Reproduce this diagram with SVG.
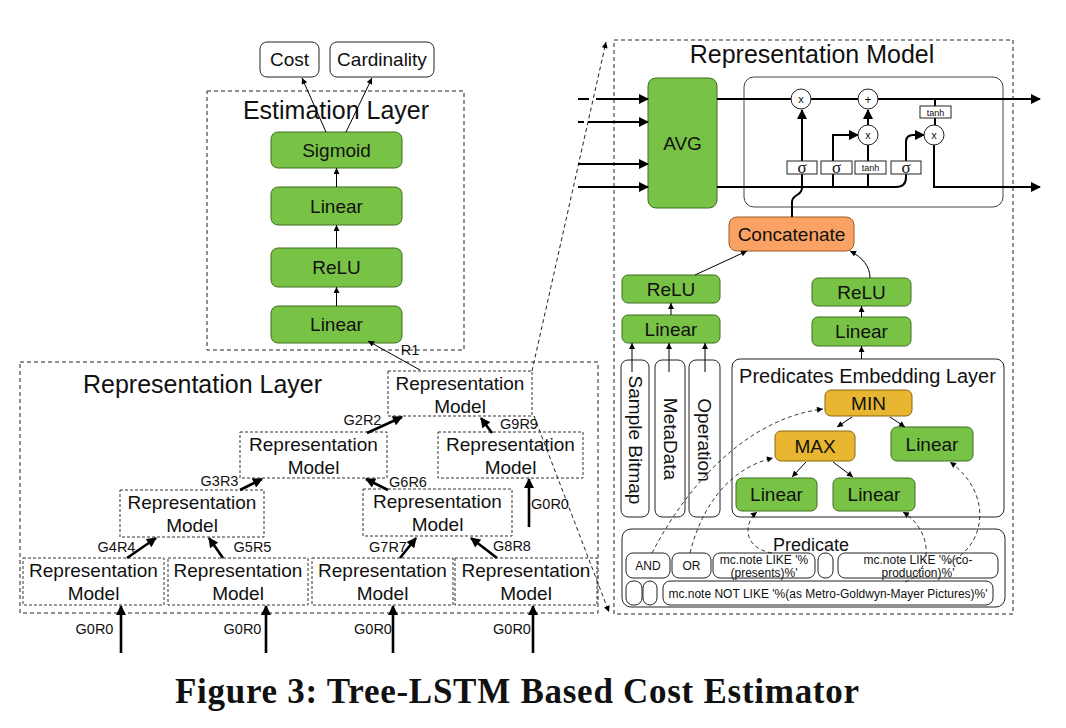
<svg xmlns="http://www.w3.org/2000/svg" width="1066" height="728" viewBox="0 0 1066 728">
<style>
text{font-family:"Liberation Sans",Arial,sans-serif;fill:#111}
.t19{font-size:19px;text-anchor:middle}
.t25{font-size:25px;text-anchor:middle}
.lbl{font-size:14.5px;text-anchor:middle}
.sm{font-size:12px;text-anchor:middle}
.g{fill:#78C345;stroke:#3E6E22;stroke-width:1}
.o{fill:#F9A263;stroke:#9A5B25;stroke-width:1}
.y{fill:#E8B631;stroke:#86660F;stroke-width:1}
.w{fill:#fff;stroke:#222;stroke-width:1}
.rm{fill:#fff;stroke:#333;stroke-width:1;stroke-dasharray:3 2}
.dl{fill:none;stroke:#222;stroke-width:1;stroke-dasharray:4 3}
.th{fill:none;stroke:#000;stroke-width:1}
.tk{fill:none;stroke:#000;stroke-width:2.6}
.ls{fill:none;stroke:#000;stroke-width:2}
.dc{fill:none;stroke:#222;stroke-width:0.9;stroke-dasharray:4 3}
</style>
<defs>
<marker id="a1" viewBox="0 0 10 10" refX="10" refY="5" markerWidth="7" markerHeight="6" markerUnits="userSpaceOnUse" orient="auto"><path d="M0,0 L10,5 L0,10 z" fill="#000"/></marker>
<marker id="a2" viewBox="0 0 10 10" refX="9" refY="5" markerWidth="12" markerHeight="10" markerUnits="userSpaceOnUse" orient="auto"><path d="M0,0 L10,5 L0,10 z" fill="#000"/></marker>
<marker id="a3" viewBox="0 0 10 10" refX="9" refY="5" markerWidth="14" markerHeight="10" markerUnits="userSpaceOnUse" orient="auto"><path d="M0,0 L10,5 L0,10 z" fill="#000"/></marker>
</defs>
<rect width="1066" height="728" fill="#fff"/>

<!-- layer frames -->
<g id="estimation-layer">
<rect x="207" y="91" width="257" height="259" class="dl"/>
<text x="336" y="119" class="t25">Estimation Layer</text>
</g>
<g id="representation-layer">
<rect x="20" y="362" width="578" height="251" class="dl"/>
<text x="83" y="393" style="font-size:25px">Representation Layer</text>
</g>
<g id="representation-model-panel">
<rect x="614" y="40" width="399" height="574" class="dl"/>
<text x="812" y="63" class="t25">Representation Model</text>
</g>

<!-- estimation nodes -->
<g id="cost"><rect x="260" y="42" width="59" height="35" rx="7" class="w"/><text x="289.5" y="66" class="t19">Cost</text></g>
<g id="cardinality"><rect x="330" y="42" width="104" height="35" rx="7" class="w"/><text x="382" y="66" class="t19">Cardinality</text></g>
<g id="sigmoid"><rect x="271" y="132" width="131" height="36" rx="7" class="g"/><text x="336.5" y="157" class="t19">Sigmoid</text></g>
<g id="est-linear2"><rect x="271" y="187" width="131" height="38" rx="7" class="g"/><text x="336.5" y="213" class="t19">Linear</text></g>
<g id="est-relu"><rect x="271" y="248" width="131" height="39" rx="7" class="g"/><text x="336.5" y="274" class="t19">ReLU</text></g>
<g id="est-linear1"><rect x="271" y="306" width="131" height="37" rx="7" class="g"/><text x="336.5" y="331" class="t19">Linear</text></g>

<!-- representation model nodes (left tree) -->
<g id="rm-root"><rect x="388" y="371" width="144" height="45" class="rm"/><text x="460" y="390" class="t19">Representation</text><text x="460" y="413" class="t19">Model</text></g>
<g id="rm-2l"><rect x="240" y="432" width="147" height="46" class="rm"/><text x="313.5" y="451" class="t19">Representation</text><text x="313.5" y="474" class="t19">Model</text></g>
<g id="rm-2r"><rect x="438" y="432" width="145" height="46" class="rm"/><text x="510.5" y="451" class="t19">Representation</text><text x="510.5" y="474" class="t19">Model</text></g>
<g id="rm-3l"><rect x="120" y="490" width="144" height="47" class="rm"/><text x="192" y="509" class="t19">Representation</text><text x="192" y="532" class="t19">Model</text></g>
<g id="rm-3r"><rect x="363" y="489" width="149" height="47" class="rm"/><text x="437.5" y="508" class="t19">Representation</text><text x="437.5" y="531" class="t19">Model</text></g>
<g id="rm-4a"><rect x="23" y="558" width="141" height="47" class="rm"/><text x="93.5" y="577" class="t19">Representation</text><text x="93.5" y="600" class="t19">Model</text></g>
<g id="rm-4b"><rect x="168" y="558" width="140" height="47" class="rm"/><text x="238" y="577" class="t19">Representation</text><text x="238" y="600" class="t19">Model</text></g>
<g id="rm-4c"><rect x="312" y="558" width="141" height="47" class="rm"/><text x="382.5" y="577" class="t19">Representation</text><text x="382.5" y="600" class="t19">Model</text></g>
<g id="rm-4d"><rect x="455" y="558" width="142" height="47" class="rm"/><text x="526" y="577" class="t19">Representation</text><text x="526" y="600" class="t19">Model</text></g>

<!-- right panel nodes -->
<g id="avg"><rect x="648" y="78" width="69" height="130" rx="8" class="g"/><text x="682.5" y="150" class="t19">AVG</text></g>
<g id="lstm-cell"><rect x="744" y="77" width="259" height="130" rx="10" fill="#fff" stroke="#444" stroke-width="1"/></g>
<g id="concatenate"><rect x="729" y="217" width="125" height="34" rx="8" class="o"/><text x="791.5" y="241" class="t19">Concatenate</text></g>
<g id="relu-l"><rect x="622" y="275" width="98" height="28" rx="6" class="g"/><text x="671" y="296" class="t19">ReLU</text></g>
<g id="linear-l"><rect x="622" y="315" width="98" height="28" rx="6" class="g"/><text x="671" y="336" class="t19">Linear</text></g>
<g id="relu-r"><rect x="812" y="278" width="99" height="28" rx="6" class="g"/><text x="861.5" y="299" class="t19">ReLU</text></g>
<g id="linear-r"><rect x="812" y="317" width="99" height="29" rx="6" class="g"/><text x="861.5" y="338" class="t19">Linear</text></g>
<g id="sample-bitmap"><rect x="621" y="360" width="28" height="157" rx="7" class="w"/><text transform="translate(635,440) rotate(90)" class="t19" dominant-baseline="central">Sample Bitmap</text></g>
<g id="metadata"><rect x="655" y="360" width="30" height="157" rx="7" class="w"/><text transform="translate(670,439) rotate(90)" class="t19" dominant-baseline="central">MetaData</text></g>
<g id="operation"><rect x="689" y="360" width="31" height="157" rx="7" class="w"/><text transform="translate(704.5,440) rotate(90)" class="t19" dominant-baseline="central">Operation</text></g>
<g id="pred-embedding"><rect x="732" y="359" width="272" height="158" rx="8" class="w"/><text x="867.5" y="383" style="font-size:20px;text-anchor:middle">Predicates Embedding Layer</text></g>
<g id="min"><rect x="825" y="390" width="87" height="26" rx="6" class="y"/><text x="868.5" y="410" class="t19">MIN</text></g>
<g id="max"><rect x="775" y="431" width="80" height="30" rx="6" class="y"/><text x="815" y="453" class="t19">MAX</text></g>
<g id="linear-min"><rect x="891" y="427" width="82" height="34" rx="6" class="g"/><text x="932" y="451" class="t19">Linear</text></g>
<g id="linear-bl"><rect x="736" y="478" width="81" height="33" rx="6" class="g"/><text x="776.5" y="501" class="t19">Linear</text></g>
<g id="linear-br"><rect x="833" y="478" width="82" height="33" rx="6" class="g"/><text x="874" y="501" class="t19">Linear</text></g>
<g id="predicate">
<rect x="622" y="529" width="383" height="78" rx="9" class="w"/>
<text x="811" y="551" style="font-size:18px;text-anchor:middle">Predicate</text>
<rect x="626" y="553" width="44" height="25" rx="7" class="w"/><text x="648" y="570" class="sm">AND</text>
<rect x="672" y="553" width="39" height="25" rx="7" class="w"/><text x="691.5" y="570" class="sm">OR</text>
<rect x="713" y="553" width="102" height="25" rx="7" class="w"/><text x="764" y="564" class="sm">mc.note LIKE '%</text><text x="764" y="576.5" class="sm">(presents)%'</text>
<rect x="818" y="553" width="15" height="25" rx="7" class="w"/>
<rect x="838" y="553" width="160" height="25" rx="7" class="w"/><text x="918" y="564" class="sm">mc.note LIKE '%(co-</text><text x="918" y="576.5" class="sm">production)%'</text>
<rect x="626" y="581" width="16" height="24" rx="7" class="w"/>
<rect x="643" y="581" width="14" height="24" rx="7" class="w"/>
<rect x="663" y="581" width="330" height="24" rx="7" class="w"/><text x="828" y="597.5" class="sm">mc.note NOT LIKE '%(as Metro-Goldwyn-Mayer Pictures)%'</text>
</g>

<!-- connectors -->
<g id="connectors">
<!-- estimation -->
<path d="M326 132 L302 78" class="th" marker-end="url(#a1)"/>
<path d="M346 132 L372 78" class="th" marker-end="url(#a1)"/>
<path d="M336.5 187 V168" class="th" marker-end="url(#a1)"/>
<path d="M336.5 248 V225" class="th" marker-end="url(#a1)"/>
<path d="M336.5 306 V287" class="th" marker-end="url(#a1)"/>
<path d="M420 370 L368 341" class="th" marker-end="url(#a1)"/>
<!-- tree -->
<path d="M367 433 L402 417" class="tk" marker-end="url(#a2)"/>
<path d="M492 433 L481 418" class="tk" marker-end="url(#a2)"/>
<path d="M240 490 L262 479" class="tk" marker-end="url(#a2)"/>
<path d="M388 490 L366 479" class="tk" marker-end="url(#a2)"/>
<path d="M127 558 L156 538" class="tk" marker-end="url(#a2)"/>
<path d="M223 558 L209 538" class="tk" marker-end="url(#a2)"/>
<path d="M400 558 L416 538" class="tk" marker-end="url(#a2)"/>
<path d="M497 558 L471 538" class="tk" marker-end="url(#a2)"/>
<path d="M529 527 V479" class="tk" marker-end="url(#a3)"/>
<path d="M121 653 V606" class="tk" marker-end="url(#a3)"/>
<path d="M266 653 V606" class="tk" marker-end="url(#a3)"/>
<path d="M393 653 V606" class="tk" marker-end="url(#a3)"/>
<path d="M533 653 V606" class="tk" marker-end="url(#a3)"/>
<!-- zoom lines -->
<path d="M532 371 L606 42" class="dl" marker-end="url(#a1)"/>
<path d="M534 416 L609 612" class="dl" marker-end="url(#a1)"/>
<!-- AVG inputs -->
<path d="M578 99 H589" class="ls"/>
<path d="M596 99 H648" class="ls" marker-end="url(#a3)"/>
<path d="M578 122 H584" class="ls"/>
<path d="M588 122 H648" class="ls" marker-end="url(#a3)"/>
<path d="M578 164 H648" class="ls" marker-end="url(#a3)"/>
<path d="M578 187 H648" class="ls" marker-end="url(#a3)"/>
<!-- LSTM internals -->
<path d="M717 99 H1040" class="ls" marker-end="url(#a3)"/>
<path d="M717 187 H896 Q906 187 906 177 V174" class="ls"/>
<path d="M802 174 V187" class="ls"/>
<path d="M802 161 V110" class="ls" marker-end="url(#a2)"/>
<path d="M792 217 V202 C792 194 802 196 802 188" class="ls"/>
<path d="M833 187 V174" class="ls"/>
<path d="M833 161 V135 H858" class="ls" marker-end="url(#a2)"/>
<path d="M868 187 V145" class="ls"/>
<path d="M868 125 V110" class="ls" marker-end="url(#a2)"/>
<path d="M906 161 V142 Q906 135 913 135 H924" class="ls" marker-end="url(#a2)"/>
<path d="M935 99 V125" class="ls"/>
<path d="M934 145 V187 H1040" class="ls" marker-end="url(#a3)"/>
<!-- right panel thin arrows -->
<path d="M695 275 L747 251" class="th" marker-end="url(#a1)"/>
<path d="M870 278 C870 266 862 257 850 251" class="th" marker-end="url(#a1)"/>
<path d="M671 315 V303" class="th" marker-end="url(#a1)"/>
<path d="M861.5 317 V306" class="th" marker-end="url(#a1)"/>
<path d="M861.5 359 V346" class="th" marker-end="url(#a1)"/>
<path d="M632 372 V343" class="th" marker-end="url(#a1)"/>
<path d="M669 372 V343" class="th" marker-end="url(#a1)"/>
<path d="M705 372 V343" class="th" marker-end="url(#a1)"/>
<path d="M852 417 L837 427" class="th" marker-end="url(#a1)"/>
<path d="M890 417 L905 427" class="th" marker-end="url(#a1)"/>
<path d="M806 462 L792 477" class="th" marker-end="url(#a1)"/>
<path d="M833 462 L853 477" class="th" marker-end="url(#a1)"/>
<!-- predicate dashed links -->
<path d="M652 553 C690 480 750 418 823 409" class="dc" marker-end="url(#a1)"/>
<path d="M690 553 C702 505 730 468 773 458" class="dc" marker-end="url(#a1)"/>
<path d="M772 553 C742 548 744 522 757 512" class="dc" marker-end="url(#a1)"/>
<path d="M905 582 C935 570 932 530 903 512" class="dc" marker-end="url(#a1)"/>
<path d="M948 563 C988 545 992 492 950 462" class="dc" marker-end="url(#a1)"/>
</g>

<!-- LSTM gate nodes -->
<g id="gate-sigma1"><rect x="787" y="161" width="30" height="13" fill="#fff" stroke="#222"/><text x="802" y="172.5" style="font-family:'Liberation Serif',serif;font-size:17px;text-anchor:middle">σ</text></g>
<g id="gate-sigma2"><rect x="821" y="161" width="31" height="13" fill="#fff" stroke="#222"/><text x="836.5" y="172.5" style="font-family:'Liberation Serif',serif;font-size:17px;text-anchor:middle">σ</text></g>
<g id="gate-tanh"><rect x="855" y="161" width="31" height="13" fill="#fff" stroke="#222"/><text x="870.5" y="171" style="font-size:9px;text-anchor:middle">tanh</text></g>
<g id="gate-sigma3"><rect x="891" y="161" width="30" height="13" fill="#fff" stroke="#222"/><text x="906" y="172.5" style="font-family:'Liberation Serif',serif;font-size:17px;text-anchor:middle">σ</text></g>
<g id="gate-tanh2"><rect x="920" y="106" width="31" height="12" fill="#fff" stroke="#222"/><text x="935.5" y="115.5" style="font-size:9px;text-anchor:middle">tanh</text></g>
<g id="op-mul1"><circle cx="801" cy="99" r="10" fill="#fff" stroke="#222"/><text x="801" y="103" style="font-size:11px;text-anchor:middle">x</text></g>
<g id="op-add"><circle cx="868" cy="99" r="10" fill="#fff" stroke="#222"/><text x="868" y="103.5" style="font-size:12px;text-anchor:middle">+</text></g>
<g id="op-mul2"><circle cx="868" cy="135" r="10" fill="#fff" stroke="#222"/><text x="868" y="139" style="font-size:11px;text-anchor:middle">x</text></g>
<g id="op-mul3"><circle cx="934" cy="135" r="10" fill="#fff" stroke="#222"/><text x="934" y="139" style="font-size:11px;text-anchor:middle">x</text></g>

<!-- labels -->
<g id="edge-labels">
<text x="410" y="355" class="lbl">R1</text>
<text x="362.5" y="425" class="lbl">G2R2</text>
<text x="519" y="429" class="lbl">G9R9</text>
<text x="219.5" y="486" class="lbl">G3R3</text>
<text x="408" y="487" class="lbl">G6R6</text>
<text x="116.5" y="552" class="lbl">G4R4</text>
<text x="252.5" y="552" class="lbl">G5R5</text>
<text x="388" y="552" class="lbl">G7R7</text>
<text x="512" y="551" class="lbl">G8R8</text>
<text x="550" y="509" class="lbl">G0R0</text>
<text x="94.5" y="634" class="lbl">G0R0</text>
<text x="242.5" y="634" class="lbl">G0R0</text>
<text x="373" y="634" class="lbl">G0R0</text>
<text x="512" y="634" class="lbl">G0R0</text>
</g>

<text x="517" y="703" textLength="684" lengthAdjust="spacing" style="font-family:'Liberation Serif','Times New Roman',serif;font-weight:bold;font-size:35px;text-anchor:middle">Figure 3: Tree-LSTM Based Cost Estimator</text>
</svg>
